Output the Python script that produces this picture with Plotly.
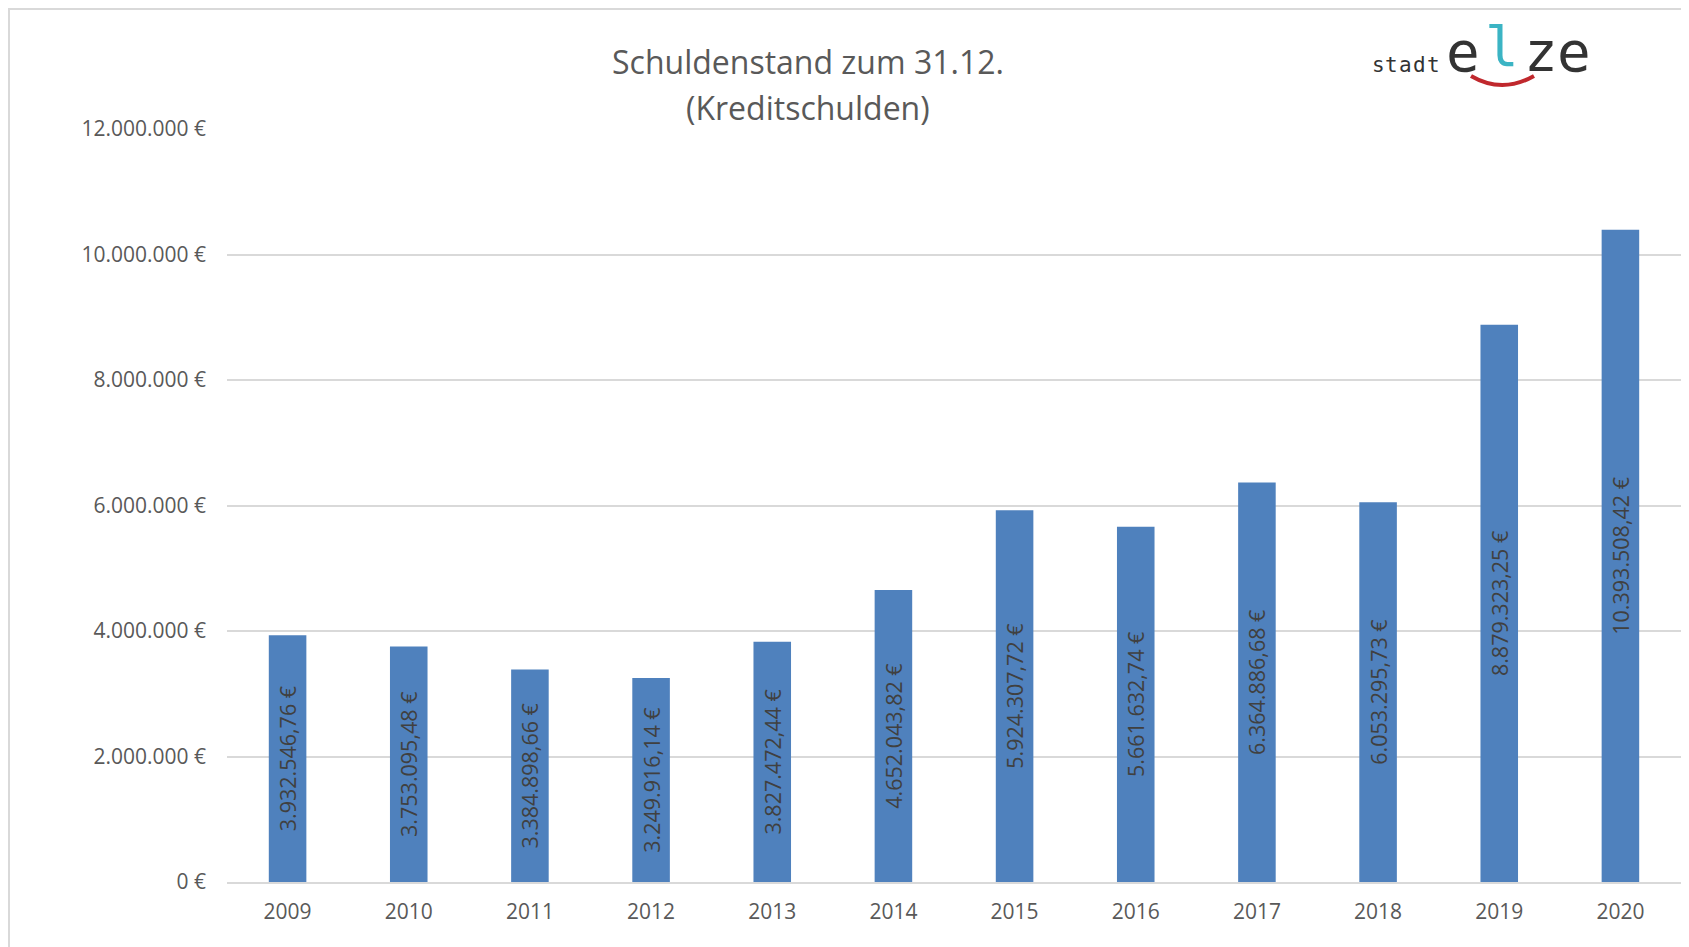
import plotly.graph_objects as go

years = ["2009", "2010", "2011", "2012", "2013", "2014",
         "2015", "2016", "2017", "2018", "2019", "2020"]
debt = [3932546.76, 3753095.48, 3384898.66, 3249916.14, 3827472.44, 4652043.82,
        5924307.72, 5661632.74, 6364886.68, 6053295.73, 8879323.25, 10393508.42]
y_ticks = [0, 2000000, 4000000, 6000000, 8000000, 10000000, 12000000]
y_tick_text = ["0 €", "2.000.000 €", "4.000.000 €", "6.000.000 €",
               "8.000.000 €", "10.000.000 €", "12.000.000 €"]

OFF = 8  # browser body margin
W, H = 1689 - OFF, 947 - OFF
ML, MR, MT, MB = 227 - OFF, 8, 129 - OFF, 65
PW, PH = W - ML - MR, H - MT - MB


def px_x(x):
    return (x - OFF - ML) / PW


def px_y(y):
    return (H - MB - (y - OFF)) / PH


BAR = "#4F81BD"
TXT = "#595959"
GRID = "#D9D9D9"
FONT = "Open Sans"

fig = go.Figure(go.Bar(
    x=years, y=debt,
    marker=dict(color=BAR, line=dict(width=0)),
    texttemplate="%{y:,.2f} €",
    textposition="inside",
    insidetextanchor="middle",
    textangle=-90,
    insidetextfont=dict(family=FONT, size=21.5, color="#404040"),
    constraintext="none",
    hoverinfo="skip",
))

annotations = [
    dict(text="Schuldenstand zum 31.12.", x=px_x(808), y=px_y(61)),
    dict(text="(Kreditschulden)", x=px_x(808), y=px_y(107)),
]
for a in annotations:
    a.update(xref="paper", yref="paper", xanchor="center", yanchor="middle",
             showarrow=False, font=dict(family=FONT, size=32, color=TXT))

# logo "stadt elze"
logo = [
    ("s", 1378, 65, 21, "#333333"),
    ("t", 1391, 65, 21, "#333333"),
    ("a", 1405, 65, 21, "#333333"),
    ("d", 1419, 65, 21, "#333333"),
    ("t", 1433, 65, 21, "#333333"),
    ("e", 1463, 51, 56, "#333333"),
    ("l", 1502, 46, 56, "#3BB4C4"),
    ("z", 1541, 51, 56, "#333333"),
    ("e", 1574, 51, 56, "#333333"),
]
for t, x, y, s, c in logo:
    annotations.append(dict(
        text=t, x=px_x(x), y=px_y(y), xref="paper", yref="paper",
        xanchor="center", yanchor="middle", showarrow=False,
        font=dict(family="DejaVu Sans Mono", size=s, color=c)))

smile = "M {:.5f} {:.5f} Q {:.5f} {:.5f} {:.5f} {:.5f}".format(
    px_x(1471), px_y(76), px_x(1502), px_y(94), px_x(1534), px_y(76))

shapes = [
    dict(type="path", xref="paper", yref="paper", path=smile,
         line=dict(color="#C0282D", width=4)),
    dict(type="line", xref="paper", yref="paper",
         x0=px_x(8), x1=px_x(1700), y0=px_y(9), y1=px_y(9),
         line=dict(color=GRID, width=2)),
    dict(type="line", xref="paper", yref="paper",
         x0=px_x(9), x1=px_x(9), y0=px_y(8), y1=px_y(960),
         line=dict(color=GRID, width=2)),
]

fig.update_layout(
    width=W, height=H,
    margin=dict(l=ML, r=MR, t=MT, b=MB, pad=0),
    paper_bgcolor="white", plot_bgcolor="white",
    separators=",.",
    bargap=0.69,
    showlegend=False,
    font=dict(family=FONT, color=TXT),
    annotations=annotations,
    shapes=shapes,
)
fig.update_xaxes(
    showgrid=False, showline=True, linecolor=GRID, linewidth=2,
    ticks="", tickfont=dict(family=FONT, size=21, color=TXT),
    ticklabelstandoff=10,
)
fig.update_yaxes(
    range=[0, 12000000], tickvals=y_ticks, ticktext=y_tick_text,
    showgrid=True, gridcolor=GRID, gridwidth=2, zeroline=False,
    showline=False, ticks="",
    tickfont=dict(family=FONT, size=21, color=TXT),
    ticklabelstandoff=20,
)

fig.write_html("out.html")
